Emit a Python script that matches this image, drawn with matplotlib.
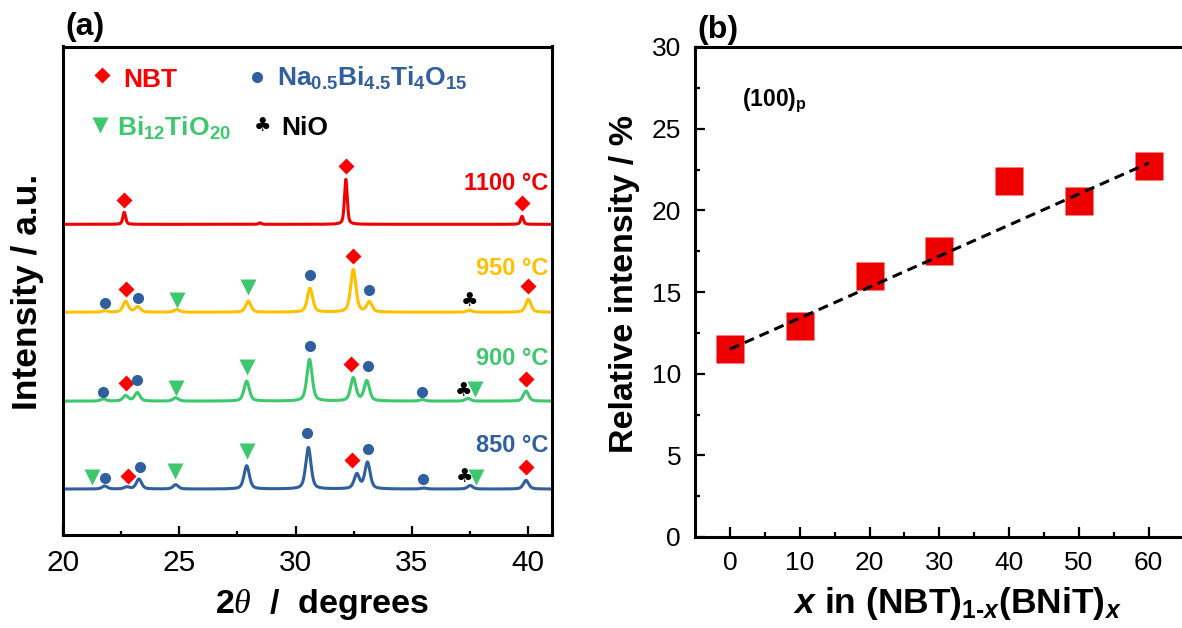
import numpy as np
import matplotlib.pyplot as plt

plt.rcParams['font.family'] = ['Liberation Sans', 'DejaVu Sans']
plt.rcParams['mathtext.fontset'] = 'custom'
plt.rcParams['mathtext.rm'] = 'Liberation Sans:bold'
plt.rcParams['mathtext.bf'] = 'Liberation Sans:bold'
plt.rcParams['mathtext.it'] = 'Liberation Serif:italic'
plt.rcParams['mathtext.bfit'] = 'Liberation Sans:bold:italic'
plt.rcParams['mathtext.default'] = 'bf'

# ---- panel (a): XRD peaks (2theta, height above baseline) ----
pos_1100 = [22.64, 28.47, 32.16, 39.73]
hgt_1100 = [12, 1.5, 45, 8]
pos_950 = [21.81, 22.70, 23.22, 24.89, 27.97, 30.62, 32.48, 33.17, 37.47, 40.0]
hgt_950 = [1.5, 10.7, 5.5, 2.7, 11, 24, 42.7, 10, 2, 13]
pos_900 = [21.74, 22.70, 23.20, 24.85, 27.90, 30.60, 32.48, 33.06, 35.45, 37.40, 39.90]
hgt_900 = [2.3, 5.5, 8.5, 3.3, 20, 41.7, 23, 20, 1.5, 2.7, 10]
pos_850 = [21.80, 22.75, 23.27, 24.85, 27.90, 30.55, 32.63, 33.09, 35.50, 37.50, 39.90]
hgt_850 = [3, 2, 10, 4.3, 23.3, 41.6, 14.5, 26.5, 1, 3.5, 8.7]
temps = ['1100 °C', '950 °C', '900 °C', '850 °C']

# phase markers per pattern: 2theta and height above baseline
nbt_x = [[22.64, 32.16, 39.73], [22.70, 32.48, 40.0], [22.70, 32.38, 39.9], [22.79, 32.43, 39.9]]
nbt_y = [[24.7, 58.3, 21.3], [23, 56.7, 26], [17.7, 37.3, 21.7], [12.6, 29.3, 22]]
nbit_x = [[], [21.81, 23.22, 30.62, 33.17], [21.74, 23.2, 30.6, 33.13, 35.42],
          [21.8, 23.3, 30.51, 33.1, 35.47]]
nbit_y = [[], [9, 14.7, 37.4, 22.7], [9, 20.7, 55, 35, 9.3], [11, 22, 56, 40, 10.3]]
bto_x = [[], [24.89, 27.97], [24.85, 27.9, 37.71], [21.24, 24.8, 27.9, 37.76]]
bto_y = [[], [12.7, 25.7], [13.3, 34.3, 11.7], [11.6, 17.6, 37.6, 12]]
nio_x = [[], [37.47], [37.21], [37.26]]
nio_y = [[], [11.4], [11], [12.6]]

# ---- panel (b) ----
x_comp = [0, 10, 20, 30, 40, 50, 60]
rel_int = [11.5, 12.9, 16.0, 17.5, 21.8, 20.6, 22.7]
fit_x = [0, 60]
fit_y = [11.5, 22.9]

red = '#F00000'
yellow = '#FFC000'
green = '#3DC86E'
blue = '#2F5F9E'
curve_colors = [red, yellow, green, blue]
offsets = [311, 223, 134, 46]
widths = [0.14, 0.27, 0.27, 0.27]


def pseudo_voigt(x, x0, h, w, eta=0.5):
    g = np.exp(-4 * np.log(2) * ((x - x0) / w) ** 2)
    l = 1 / (1 + 4 * ((x - x0) / w) ** 2)
    return h * (eta * l + (1 - eta) * g)


fig = plt.figure(figsize=(11.82, 6.28), dpi=100)
ax1 = fig.add_axes([62.8 / 1182, 1 - 535 / 628, 488.8 / 1182, 488.5 / 628])
ax2 = fig.add_axes([695 / 1182, 1 - 537 / 628, 488.6 / 1182, 490 / 628])

tt = np.linspace(20, 41, 4201)
peak_sets = [(pos_1100, hgt_1100), (pos_950, hgt_950), (pos_900, hgt_900), (pos_850, hgt_850)]
for i, (pos, hgt) in enumerate(peak_sets):
    y = np.full_like(tt, offsets[i])
    for p, h in zip(pos, hgt):
        y += pseudo_voigt(tt, p, h, widths[i])
    ax1.plot(tt, y, color=curve_colors[i], lw=2.2, zorder=2)
    ax1.plot(nbt_x[i], np.array(nbt_y[i]) + offsets[i], 'D', color='#FF0000', ms=8.5, mec='none', zorder=3)
    ax1.plot(nbit_x[i], np.array(nbit_y[i]) + offsets[i], 'o', color=blue, ms=8, mec='none', zorder=3)
    ax1.plot(bto_x[i], np.array(bto_y[i]) + offsets[i], 'v', color=green, ms=11, mec='none', zorder=3)
    for cx, cy in zip(nio_x[i], nio_y[i]):
        ax1.text(cx, cy + offsets[i], '\u2663', fontsize=14, ha='center', va='center',
                 family=['DejaVu Sans'], color='black', zorder=3)

label_y = [352, 267, 177, 90]
for i, t in enumerate(temps):
    ax1.text(40.86, label_y[i], t, color=curve_colors[i], fontsize=17, fontweight='bold',
             ha='right', va='center')

# legend drawn inside panel (a)
ax1.plot([21.7], [460], 'D', color='#FF0000', ms=8.5, mec='none')
ax1.text(22.6, 448.5, 'NBT', color='#FF0000', fontsize=19, fontweight='bold', va='baseline')
ax1.plot([28.35], [458], 'o', color=blue, ms=8, mec='none')
ax1.text(29.2, 450, r'Na$_{0.5}$Bi$_{4.5}$Ti$_{4}$O$_{15}$', color=blue, fontsize=19,
         fontweight='bold', va='baseline')
ax1.plot([21.6], [410], 'v', color=green, ms=11, mec='none')
ax1.text(22.35, 400, r'Bi$_{12}$TiO$_{20}$', color=green, fontsize=19, fontweight='bold', va='baseline')
ax1.text(28.6, 410, '\u2663', fontsize=14, ha='center', va='center', family=['DejaVu Sans'])
ax1.text(29.4, 400, 'NiO', color='black', fontsize=19, fontweight='bold', va='baseline')

ax1.set_xlim(20, 41)
ax1.set_ylim(0, 489)
ax1.set_xticks([20, 25, 30, 35, 40])
ax1.set_xticks([22.5, 27.5, 32.5, 37.5], minor=True)
ax1.set_yticks([])
ax1.tick_params(axis='x', which='major', direction='in', length=6.5, width=1.6, labelsize=21.5, pad=10)
ax1.tick_params(axis='x', which='minor', direction='in', length=3, width=1.6)
ax1.set_xlabel('2$\\mathit{\\theta}$  /  degrees', fontsize=24.5, fontweight='bold')
ax1.xaxis.set_label_coords((322 - 62.8) / 488.8, (535 - 605) / 488.5)
ax1.xaxis.label.set_va('center')
ax1.set_ylabel('Intensity / a.u.', fontsize=25.5, fontweight='bold')
ax1.yaxis.set_label_coords((28 - 62.8) / 488.8, (535 - 291.5) / 488.5)
ax1.yaxis.label.set_va('center')
for s in ax1.spines.values():
    s.set_linewidth(2.2)
fig.text(65 / 1182, 1 - 27 / 628, '(a)', fontsize=23, fontweight='bold', va='center', ha='left')

# ---- panel (b) ----
ax2.plot(x_comp, rel_int, 's', color='#EE0000', ms=20.5, mec='none', zorder=2)
ax2.plot(fit_x, fit_y, color='black', lw=2.2, ls=(0, (3.3, 2)), zorder=3)
ax2.text(1.8, 26.7, r'(100)$_{\mathrm{p}}$', fontsize=16.5, fontweight='bold', va='center')
ax2.set_xlim(-5, 65)
ax2.set_ylim(0, 30)
ax2.set_xticks([0, 10, 20, 30, 40, 50, 60])
ax2.set_xticks([5, 15, 25, 35, 45, 55], minor=True)
ax2.set_yticks([0, 5, 10, 15, 20, 25, 30])
ax2.set_yticks([2.5, 7.5, 12.5, 17.5, 22.5, 27.5], minor=True)
ax2.tick_params(which='major', direction='in', length=7, width=1.6, labelsize=19, pad=10)
ax2.tick_params(which='minor', direction='in', length=3.5, width=1.6)
ax2.set_xlabel(r'$\mathbfit{x}$ in (NBT)$_{1\text{-}\mathbfit{x}}$(BNiT)$_{\mathbfit{x}}$',
               fontsize=25.5, fontweight='bold')
ax2.xaxis.set_label_coords((957 - 695) / 488.6, (537 - 603) / 490)
ax2.xaxis.label.set_va('center')
ax2.set_ylabel('Relative intensity / %', fontsize=24.5, fontweight='bold')
ax2.yaxis.set_label_coords((625 - 695) / 488.6, (537 - 284) / 490)
ax2.yaxis.label.set_va('center')
for s in ax2.spines.values():
    s.set_linewidth(2.2)
fig.text(697 / 1182, 1 - 30 / 628, '(b)', fontsize=23, fontweight='bold', va='center', ha='left')

fig.savefig('out.png', dpi=100)
plt.close(fig)
